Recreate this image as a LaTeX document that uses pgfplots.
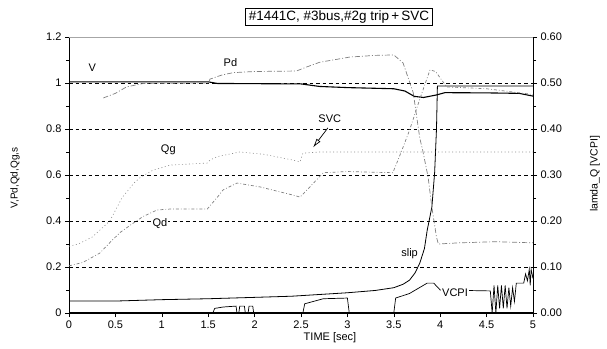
\documentclass[border=0pt]{standalone}
\usepackage{pgfplots}
\pgfplotsset{compat=1.18}
\usepackage{fontspec}
\setmainfont{Liberation Sans}
\usetikzlibrary{arrows.meta}
\begin{document}
\begin{tikzpicture}
\useasboundingbox (-69pt,-35pt) rectangle (538pt,313pt);
\pgfplotsset{
  every axis/.append style={
    /pgf/number format/assume math mode=true,
    tick label style={font=\fontsize{11}{12}\selectfont},
    tick align=outside,
    major tick length=4pt,
    minor tick length=3pt,
    every tick/.style={black, line width=0.6pt},
  }
}
\begin{axis}[
  at={(0pt,0pt)}, anchor=south west,
  scale only axis, width=464pt, height=276pt,
  xmin=0, xmax=5, ymin=0, ymax=1.2,
  axis x line*=bottom, axis y line*=left,
  axis line style={line width=0.9pt, -},
  xtick={0,0.5,...,5},
  xticklabels={0,0.5,1,1.5,2,2.5,3,3.5,4,4.5,5},
  ytick={0,0.2,0.4,0.6,0.8,1,1.2},
  yticklabels={0,0.2,0.4,0.6,0.8,1,1.2},
  minor y tick num=1,
  clip=false,
]
% grid lines
\foreach \g in {0.2,0.4,0.6,0.8,1.0}{
  \edef\temp{\noexpand\draw[black, line width=0.6pt, dash pattern=on 3.5pt off 3pt] (axis cs:0,\g) -- (axis cs:5,\g);}
  \temp
}
\draw[gray!70, line width=0.6pt] (axis cs:0,1.2) -- (axis cs:5,1.2);
% thick baseline
\addplot[black, line width=2.8pt] coordinates {(0,0) (5,0)};
% V
\addplot[black, line width=1.1pt] coordinates {
(0,1.005) (1.5,1.005) (1.6,0.998) (2.5,0.996) (2.7,0.985) (3.0,0.98) (3.5,0.975)
(3.62,0.965) (3.72,0.942) (3.82,0.937) (3.96,0.948) (4.05,0.958) (4.5,0.957) (4.85,0.955) (5,0.943)};
% slip
\addplot[black, line width=0.8pt] coordinates {
(0,0.052) (0.5,0.052) (1,0.058) (1.5,0.062) (2,0.068) (2.4,0.073) (3.0,0.088) (3.3,0.098)
(3.5,0.11) (3.6,0.125) (3.67,0.143) (3.73,0.175) (3.78,0.217) (3.83,0.28) (3.86,0.36)
(3.91,0.46) (3.94,0.61) (3.96,0.8) (3.97,0.987) (5,0.987)};
% Pd
\addplot[gray, line width=0.7pt, dash pattern=on 5pt off 2pt on 1pt off 2pt] coordinates {
(0.37,0.935) (0.5,0.955) (0.62,0.983) (0.8,0.998) (1.5,1.0) (1.52,1.017) (1.65,1.035)
(1.77,1.045) (2.0,1.05) (2.45,1.052) (2.55,1.068) (2.7,1.09) (3.03,1.113) (3.3,1.12)
(3.5,1.122) (3.6,1.087) (3.71,0.957) (3.78,0.76) (3.81,0.71) (3.87,0.59) (3.91,0.46)
(3.96,0.33) (3.98,0.30) (4.2,0.305) (4.6,0.31) (5,0.305)};
% Qg
\addplot[gray!90, line width=0.6pt, dash pattern=on 1pt off 2.5pt] coordinates {
(0,0.29) (0.1,0.3) (0.25,0.33) (0.44,0.40) (0.57,0.50) (0.7,0.565) (0.77,0.59) (0.9,0.62)
(1.09,0.643) (1.49,0.652) (1.52,0.665) (1.6,0.68) (1.84,0.70) (2.1,0.69) (2.41,0.665)
(2.49,0.657) (2.52,0.695) (2.7,0.70) (3.5,0.70) (4.0,0.70) (4.5,0.70) (5,0.70)};
% Qd
\addplot[gray, line width=0.7pt, dash pattern=on 3pt off 2pt on 0.8pt off 2pt] coordinates {
(0,0.205) (0.15,0.22) (0.33,0.26) (0.45,0.31) (0.55,0.35) (0.69,0.39) (0.8,0.42)
(0.95,0.448) (1.09,0.452) (1.49,0.452) (1.6,0.504) (1.66,0.535) (1.81,0.565) (2.06,0.548)
(2.41,0.513) (2.49,0.504) (2.6,0.55) (2.74,0.61) (3.0,0.615) (3.49,0.61) (3.58,0.70)
(3.67,0.795) (3.78,0.93) (3.89,1.057) (3.95,1.05) (4.07,0.983) (4.5,0.975) (5,0.95)};
% VCPI
\addplot[black, line width=0.7pt] coordinates {
(0,0) (1.55,0) (1.57,0.02) (1.66,0.026) (1.8,0.03) (1.81,0) (1.83,0) (1.84,0.03) (1.89,0.03)
(1.9,0) (1.93,0) (1.94,0.03) (1.98,0.03) (1.99,0) (2.52,0) (2.54,0.04) (2.74,0.062)
(3.0,0.065) (3.02,0) (3.5,0) (3.52,0.065) (3.67,0.085) (3.86,0.13) (3.93,0.13) (4.0,0.1)
(4.54,0.096) (4.56,0) (4.58,0.12) (4.60,0) (4.62,0.12) (4.64,0.02) (4.66,0.12) (4.68,0.02)
(4.70,0.12) (4.72,0.02) (4.74,0.11) (4.76,0.03) (4.78,0.11) (4.8,0.05) (4.82,0.13) (4.9,0.13)
(4.92,0.17) (4.94,0.14) (4.96,0.19) (4.97,0.12) (4.98,0.19) (5,0.15)};
% annotations
\node[font=\fontsize{11}{12}\selectfont] at (axis cs:0.25,1.065) {V};
\node[font=\fontsize{11}{12}\selectfont] at (axis cs:1.74,1.09) {Pd};
\node[font=\fontsize{11}{12}\selectfont] at (axis cs:2.81,0.845) {SVC};
\node[font=\fontsize{11}{12}\selectfont] at (axis cs:1.07,0.71) {Qg};
\node[font=\fontsize{11}{12}\selectfont, fill=white, inner sep=1pt] at (axis cs:0.98,0.39) {Qd};
\node[font=\fontsize{11}{12}\selectfont, fill=white, inner sep=1pt] at (axis cs:3.67,0.26) {slip};
\node[font=\fontsize{11}{12}\selectfont, fill=white, inner sep=1pt] at (axis cs:4.16,0.09) {VCPI};
\draw[black, line width=0.7pt, -{Latex[open,length=9pt,width=5pt]}] (axis cs:2.79,0.805) -- (axis cs:2.63,0.72);
\end{axis}
\begin{axis}[
  at={(0pt,0pt)}, anchor=south west,
  scale only axis, width=464pt, height=276pt,
  xmin=0, xmax=5, ymin=0, ymax=0.6,
  axis x line=none, axis y line*=right,
  axis line style={line width=0.9pt, -},
  ytick={0,0.1,0.2,0.3,0.4,0.5,0.6},
  yticklabel style={/pgf/number format/fixed, /pgf/number format/fixed zerofill, /pgf/number format/precision=2},
  minor y tick num=1,
]
\addplot[draw=none] coordinates {(0,0) (5,0.6)};
\end{axis}
% title box
\node[draw=black, line width=1pt, inner xsep=3pt, inner ysep=2.5pt, font=\fontsize{13.5}{15}\selectfont] at (270pt,296pt) {\#1441C, \#3bus,\#2g trip\,+\,SVC};
% axis labels
\node[rotate=90, font=\fontsize{10}{12}\selectfont] at (-54pt,135pt) {V,Pd,Qd,Qg,s};
\node[rotate=90, font=\fontsize{10.5}{12}\selectfont] at (526pt,139pt) {lamda\_Q [VCPI]};
\node[font=\fontsize{11}{12}\selectfont] at (261pt,-25pt) {TIME [sec]};
\end{tikzpicture}
\end{document}
